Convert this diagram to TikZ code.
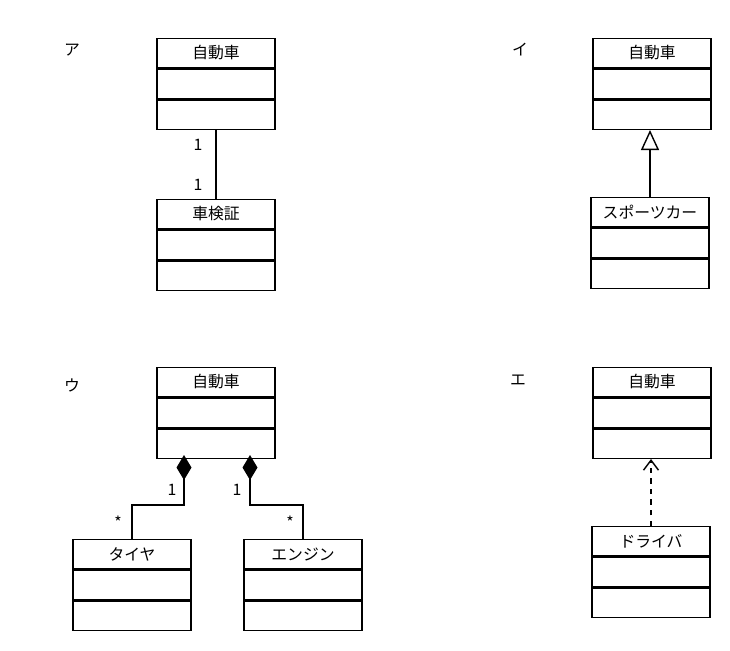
\documentclass[tikz,border=0pt]{standalone}
\usepackage{fontspec}
\setmainfont{Noto Sans CJK JP}
\usetikzlibrary{positioning,arrows.meta}

\tikzset{
  cls/.style={draw,thick,minimum width=2.36cm,minimum height=0.58cm,inner sep=0pt,font=\small},
  cmp/.style={draw,thick,minimum width=2.36cm,minimum height=0.59cm,inner sep=0pt},
  lbl/.style={font=\small},
  mult/.style={font=\small},
}

\begin{document}
\begin{tikzpicture}[x=0.02cm,y=-0.02cm]
  \useasboundingbox (0,0) rectangle (730,650);
% ア
  \node[lbl] (la) at (72,50) {ア};
  \node[cls] (a) at (216,53) {自動車};
  \node[cmp,below=0pt of a] (a1) {};
  \node[cmp,below=0pt of a1] (a2) {};
  \node[cls] (b) at (216,214) {車検証};
  \node[cmp,below=0pt of b] (b1) {};
  \node[cmp,below=0pt of b1] (b2) {};
  \draw[thick] (a2.south) -- (b.north);
  \node[mult] at (198,145) {1};
  \node[mult] at (198,185) {1};
% イ
  \node[lbl] (li) at (520,50) {イ};
  \node[cls] (c) at (652,53) {自動車};
  \node[cmp,below=0pt of c] (c1) {};
  \node[cmp,below=0pt of c1] (c2) {};
  \node[cls] (d) at (650,212) {スポーツカー};
  \node[cmp,below=0pt of d] (d1) {};
  \node[cmp,below=0pt of d1] (d2) {};
  \draw[thick,-{Triangle[open,length=0.4cm,width=0.36cm]}] (d.north) -- (d.north |- c2.south);
% ウ
  \node[lbl] (lu) at (72,385) {ウ};
  \node[cls] (e) at (216,382) {自動車};
  \node[cmp,below=0pt of e] (e1) {};
  \node[cmp,below=0pt of e1] (e2) {};
  \node[cls] (f) at (132,554) {タイヤ};
  \node[cmp,below=0pt of f] (f1) {};
  \node[cmp,below=0pt of f1] (f2) {};
  \node[cls] (g) at (303,554) {エンジン};
  \node[cmp,below=0pt of g] (g1) {};
  \node[cmp,below=0pt of g1] (g2) {};
  \coordinate (d1s) at (184,455);
  \coordinate (d2s) at (250,455);
  \draw[thick,{Diamond[length=0.5cm,width=0.3cm]}-] (d1s) -- (184,505) -| (f.north);
  \draw[thick,{Diamond[length=0.5cm,width=0.3cm]}-] (d2s) -- (250,505) -| (g.north);
  \node[mult] at (172,490) {1};
  \node[mult] at (118,522) {*};
  \node[mult] at (237,490) {1};
  \node[mult] at (290,522) {*};
% エ
  \node[lbl] (le) at (518,380) {エ};
  \node[cls] (h) at (652,382) {自動車};
  \node[cmp,below=0pt of h] (h1) {};
  \node[cmp,below=0pt of h1] (h2) {};
  \node[cls] (k) at (651,541) {ドライバ};
  \node[cmp,below=0pt of k] (k1) {};
  \node[cmp,below=0pt of k1] (k2) {};
  \draw[thick,dashed,-{Straight Barb[length=0.2cm,width=0.3cm]}] (k.north) -- (k.north |- h2.south);
\end{tikzpicture}
\end{document}
